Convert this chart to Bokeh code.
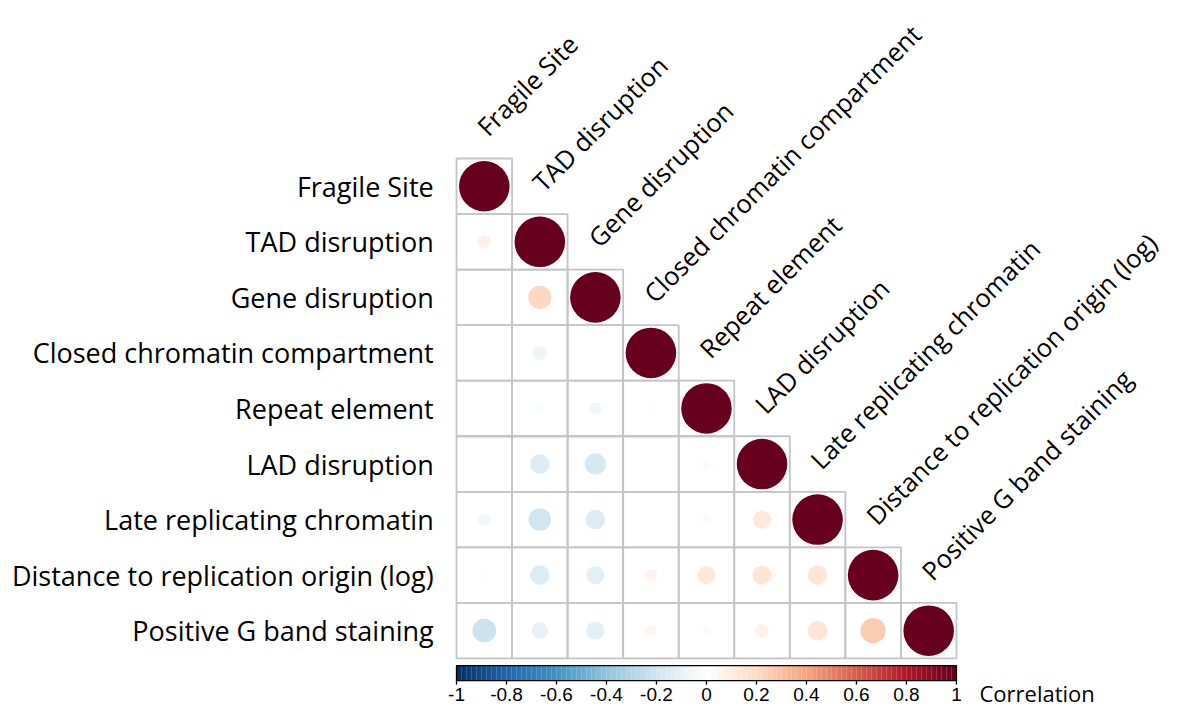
import numpy as np
from bokeh.plotting import figure
from bokeh.models import Range1d, ColumnDataSource, LinearColorMapper
from bokeh.transform import transform
from bokeh.core.properties import value
from bokeh.embed import file_html
from bokeh.resources import INLINE

# ---------------- data ----------------
variables = [
    "Fragile Site",
    "TAD disruption",
    "Gene disruption",
    "Closed chromatin compartment",
    "Repeat element",
    "LAD disruption",
    "Late replicating chromatin",
    "Distance to replication origin (log)",
    "Positive G band staining",
]

# lower triangle of the correlation matrix (row i, columns 0..i)
corr_fragile = [1.0]
corr_tad = [0.07, 1.0]
corr_gene = [-0.004, 0.21, 1.0]
corr_closed = [-0.004, -0.08, -0.01, 1.0]
corr_repeat = [-0.006, -0.03, -0.06, -0.015, 1.0]
corr_lad = [-0.002, -0.15, -0.18, -0.003, 0.03, 1.0]
corr_late = [-0.06, -0.20, -0.15, 0.0, 0.03, 0.13, 1.0]
corr_distance = [-0.015, -0.15, -0.13, 0.06, 0.13, 0.14, 0.15, 1.0]
corr_gband = [-0.22, -0.11, -0.13, 0.05, 0.03, 0.07, 0.15, 0.25, 1.0]

lower_rows = [corr_fragile, corr_tad, corr_gene, corr_closed, corr_repeat,
              corr_lad, corr_late, corr_distance, corr_gband]

colorbar_ticks = [-1, -0.8, -0.6, -0.4, -0.2, 0, 0.2, 0.4, 0.6, 0.8, 1]
colorbar_tick_labels = ["-1", "-0.8", "-0.6", "-0.4", "-0.2", "0", "0.2", "0.4", "0.6", "0.8", "1"]
legend_title = "Correlation"

# ---------------- palette (RdBu, as corrplot COL2) ----------------
anchors = ["#053061", "#2166AC", "#4393C3", "#92C5DE", "#D1E5F0", "#FFFFFF",
           "#FDDBC7", "#F4A582", "#D6604D", "#B2182B", "#67001F"]


def hex2rgb(h):
    return np.array([int(h[1:3], 16), int(h[3:5], 16), int(h[5:7], 16)], dtype=float)


anchor_rgb = np.array([hex2rgb(a) for a in anchors])
n_col = 200
pos = np.linspace(0, 1, len(anchors))
tt = np.linspace(0, 1, n_col)
palette = []
for t in tt:
    r = np.interp(t, pos, anchor_rgb[:, 0])
    g = np.interp(t, pos, anchor_rgb[:, 1])
    b = np.interp(t, pos, anchor_rgb[:, 2])
    palette.append("#%02x%02x%02x" % (int(round(r)), int(round(g)), int(round(b))))

mapper = LinearColorMapper(palette=palette, low=-1, high=1)

# ---------------- layout ----------------
W, H = 1168, 708
cell = 55.55
grid_left_px = 456.0
grid_top_px = 158.0
n = len(variables)

p = figure(width=W, height=H, output_backend="svg", toolbar_location=None,
           x_axis_type=None, y_axis_type=None, min_border=0,
           x_range=Range1d(-grid_left_px / cell, (W - grid_left_px) / cell),
           y_range=Range1d((H - grid_top_px) / cell, -grid_top_px / cell))
p.outline_line_color = None
p.grid.visible = False
p.background_fill_color = "white"
p.border_fill_color = "white"

# cells
xs, ys, rs, lefts, rights, tops, bottoms = [], [], [], [], [], [], []
for i, row in enumerate(lower_rows):
    for j, r in enumerate(row):
        xs.append(j + 0.5)
        ys.append(i + 0.5)
        rs.append(r)
        lefts.append(j)
        rights.append(j + 1)
        tops.append(i)
        bottoms.append(i + 1)

src = ColumnDataSource(dict(x=xs, y=ys, r=rs,
                            rad=[0.455 * np.sqrt(abs(v)) for v in rs],
                            left=lefts, right=rights, top=tops, bottom=bottoms))

p.quad(left="left", right="right", top="top", bottom="bottom", source=src,
       fill_color=None, line_color="#c4c4c4", line_width=1.8)
p.circle(x="x", y="y", radius="rad", source=src,
         fill_color=transform("r", mapper), line_color=None)

FONT = "Open Sans"

# row labels
p.text(x=[-0.41] * n, y=[i + 0.5 for i in range(n)], text=variables,
       text_align="right", text_baseline="middle",
       text_font=value(FONT), text_font_size="27px", text_color="black")

# column labels (rotated 45 deg)
p.text(x=[j + 0.45 for j in range(n)], y=[j - 0.5 for j in range(n)], text=variables,
       angle=np.pi / 4, text_align="left", text_baseline="alphabetic",
       text_font=value(FONT), text_font_size="25.5px", text_color="black")

# colorbar
bar_top, bar_bot = 9.13, 9.4
vals = np.linspace(-1, 1, n_col + 1)
to_x = lambda v: (np.asarray(v) + 1) / 2 * n
p.quad(left=to_x(vals[:-1]), right=to_x(vals[1:]) + 0.003, top=bar_top, bottom=bar_bot,
       fill_color=palette, line_color=None)
p.quad(left=[0], right=[n], top=[bar_top], bottom=[bar_bot], fill_color=None,
       line_color="black", line_width=1.3)
tx = to_x(colorbar_ticks)
p.segment(x0=tx, x1=tx, y0=[bar_bot] * len(tx), y1=[bar_bot + 0.07] * len(tx),
          line_color="black", line_width=1.3)
p.text(x=tx, y=[9.655] * len(tx), text=colorbar_tick_labels, text_align="center",
       text_baseline="middle", text_font=value("Liberation Sans"),
       text_font_size="19px", text_color="black")
p.text(x=[9.415], y=[9.615], text=[legend_title], text_align="left",
       text_baseline="middle", text_font=value(FONT), text_font_size="22px",
       text_color="black")

open("out.html", "w").write(file_html(p, INLINE))
